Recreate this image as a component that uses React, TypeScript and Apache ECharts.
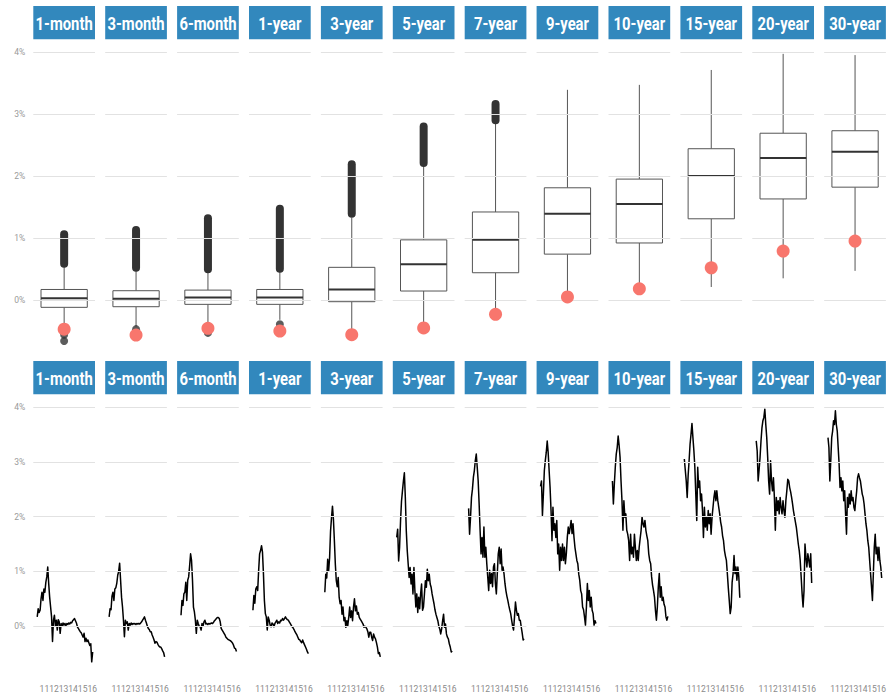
import { useEffect, useRef } from 'react';
import * as echarts from 'echarts';

// ---------- data ----------
const maturities = ['1-month', '3-month', '6-month', '1-year', '3-year', '5-year', '7-year', '9-year', '10-year', '15-year', '20-year', '30-year'];
const yieldTicks = [0, 1, 2, 3, 4];

// boxplot statistics (%)
const whiskerLow = [-0.45, -0.43, -0.37, -0.32, -0.5, -0.4, -0.2, 0.05, 0.18, 0.21, 0.35, 0.47];
const quartile1 = [-0.118, -0.108, -0.07, -0.07, -0.027, 0.145, 0.44, 0.74, 0.92, 1.31, 1.63, 1.82];
const medians = [0.027, 0.02, 0.04, 0.04, 0.17, 0.575, 0.97, 1.39, 1.55, 2.0, 2.29, 2.39];
const quartile3 = [0.17, 0.15, 0.16, 0.17, 0.527, 0.97, 1.42, 1.81, 1.95, 2.44, 2.69, 2.73];
const whiskerHigh = [0.55, 0.49, 0.47, 0.47, 1.33, 2.17, 2.86, 3.39, 3.47, 3.71, 3.97, 3.95];
// dense stacks of high outliers: lowest and highest outlier
const outlierLow = [0.585, 0.52, 0.495, 0.505, 1.39, 2.21, 2.9, null, null, null, null, null];
const outlierHigh = [1.06, 1.13, 1.32, 1.47, 2.19, 2.8, 3.16, null, null, null, null, null];
// isolated low outliers
const lowOutliers = [[-0.56, -0.66], [-0.47], [-0.53], [-0.39], [], [], [], [], [], [], [], []];
// latest value (red dot)
const latest = [-0.47, -0.565, -0.457, -0.5, -0.56, -0.45, -0.23, 0.05, 0.18, 0.52, 0.79, 0.95];

// time series, sampled every 0.1 year from 2010.25
const firstYear = 2010.25;
const stepYears = 0.1;
const s1m = [0.17, 0.32, 0.25, 0.29, 0.5, 0.62, 0.47, 0.68, 0.62, 0.8, 0.9, 1.08, 0.78, 0.53, 0.35, 0.17, -0.28, 0.11, 0.2, 0.0, 0.11, -0.07, 0.12, 0.08, -0.13, 0.05, 0.0, 0.06, 0.02, 0.05, 0.01, 0.05, 0.03, 0.06, 0.04, 0.07, 0.06, 0.1, 0.12, 0.14, 0.1, 0.06, -0.01, -0.04, -0.07, -0.1, -0.12, -0.16, -0.2, -0.13, -0.28, -0.22, -0.28, -0.25, -0.3, -0.35, -0.32, -0.65, -0.47];
const s3m = [0.17, 0.32, 0.3, 0.55, 0.62, 0.47, 0.68, 0.7, 0.78, 0.93, 1.0, 1.15, 0.84, 0.53, 0.35, 0.11, -0.19, 0.11, 0.05, 0.08, -0.07, 0.05, 0.02, 0.06, 0.03, 0.05, 0.04, 0.05, 0.03, 0.05, 0.04, 0.05, 0.04, 0.06, 0.08, 0.11, 0.14, 0.17, 0.11, 0.06, 0.0, -0.04, -0.06, -0.1, -0.1, -0.16, -0.2, -0.25, -0.31, -0.28, -0.29, -0.33, -0.36, -0.38, -0.38, -0.41, -0.45, -0.48, -0.56];
const s6m = [0.2, 0.47, 0.38, 0.59, 0.62, 0.8, 0.47, 0.84, 0.9, 1.1, 1.32, 1.2, 0.84, 0.35, 0.26, 0.11, -0.13, 0.11, 0.05, 0.0, -0.01, -0.07, 0.05, 0.0, 0.08, 0.11, 0.04, 0.05, 0.03, 0.05, 0.04, 0.05, 0.06, 0.05, 0.07, 0.1, 0.12, 0.14, 0.16, 0.16, 0.14, 0.08, -0.04, -0.07, -0.1, -0.13, -0.16, -0.2, -0.22, -0.24, -0.25, -0.26, -0.27, -0.29, -0.31, -0.35, -0.4, -0.41, -0.46];
const s1y = [0.29, 0.56, 0.42, 0.68, 0.72, 0.65, 1.02, 1.32, 1.38, 1.47, 1.35, 0.96, 0.47, 0.23, 0.17, -0.07, 0.17, 0.11, 0.02, -0.01, 0.06, 0.04, -0.01, 0.05, 0.08, 0.11, 0.05, 0.08, 0.06, 0.11, 0.1, 0.14, 0.11, 0.14, 0.17, 0.14, 0.12, 0.11, 0.08, 0.05, 0.02, -0.01, -0.03, -0.06, -0.1, -0.13, -0.16, -0.2, -0.24, -0.25, -0.28, -0.3, -0.25, -0.3, -0.34, -0.38, -0.42, -0.47, -0.5];
const s3y = [0.62, 0.95, 0.88, 1.22, 1.01, 1.25, 1.74, 1.98, 2.19, 1.95, 1.56, 1.13, 0.83, 0.72, 0.89, 0.53, 0.41, 0.47, 0.22, 0.35, 0.1, 0.16, -0.02, 0.1, 0.01, 0.16, 0.35, 0.16, 0.28, 0.1, 0.35, 0.5, 0.28, 0.37, 0.22, 0.25, 0.16, 0.13, 0.1, 0.07, 0.04, -0.02, 0.0, -0.02, -0.05, -0.1, -0.2, -0.11, -0.11, -0.2, -0.26, -0.14, -0.2, -0.23, -0.3, -0.38, -0.5, -0.48, -0.56];
const s5y = [1.62, 1.77, 1.19, 1.44, 1.92, 2.28, 2.47, 2.65, 2.8, 2.35, 1.74, 1.38, 1.13, 0.89, 1.07, 0.77, 0.95, 0.59, 1.07, 0.65, 0.35, 0.59, 0.25, 0.53, 0.32, 0.59, 0.77, 0.29, 0.35, 0.59, 0.83, 0.71, 1.04, 0.83, 0.95, 0.77, 0.71, 0.59, 0.5, 0.41, 0.3, 0.22, 0.16, 0.1, 0.0, -0.05, -0.14, -0.05, 0.1, 0.22, -0.02, 0.04, -0.14, -0.2, -0.23, -0.32, -0.38, -0.47, -0.45];
const s7y = [2.15, 1.68, 1.99, 2.35, 2.5, 2.72, 2.84, 3.02, 3.14, 2.9, 2.65, 2.23, 1.75, 1.32, 1.62, 1.26, 1.81, 1.26, 1.44, 1.14, 0.9, 0.65, 1.02, 0.78, 0.96, 0.72, 1.08, 1.14, 0.78, 0.59, 0.96, 1.32, 1.44, 1.14, 1.41, 1.02, 1.08, 0.96, 0.78, 0.65, 0.55, 0.47, 0.38, 0.3, 0.23, 0.11, 0.0, -0.07, 0.17, 0.44, 0.29, 0.2, 0.23, 0.11, 0.11, -0.01, -0.12, -0.25, -0.23];
const s9y = [2.55, 2.65, 2.02, 2.41, 2.84, 3.02, 3.17, 3.38, 3.17, 2.84, 2.53, 2.11, 1.56, 2.17, 1.75, 1.87, 1.62, 1.93, 1.32, 1.5, 1.02, 1.44, 1.2, 1.5, 1.2, 1.44, 1.14, 1.32, 1.62, 1.81, 1.69, 1.8, 1.93, 1.69, 1.87, 1.62, 1.44, 1.32, 1.2, 1.14, 0.95, 0.84, 0.65, 0.59, 0.35, 0.3, 0.17, 0.02, 0.35, 0.78, 0.47, 0.65, 0.35, 0.53, 0.29, 0.23, 0.02, 0.1, 0.05];
const s10y = [2.65, 2.23, 2.59, 2.9, 3.14, 3.26, 3.47, 3.3, 3.08, 2.65, 2.29, 1.75, 2.29, 1.99, 2.05, 1.75, 1.68, 1.56, 1.2, 1.68, 1.32, 1.44, 1.26, 1.68, 1.44, 1.2, 1.38, 1.2, 1.44, 1.6, 1.75, 1.99, 1.87, 1.81, 1.93, 1.75, 1.65, 1.56, 1.32, 1.2, 1.14, 0.9, 0.75, 0.65, 0.53, 0.29, 0.11, 0.35, 0.72, 0.96, 0.53, 0.72, 0.47, 0.53, 0.4, 0.35, 0.17, 0.11, 0.18];
const s15y = [3.05, 2.85, 2.65, 2.35, 2.75, 3.02, 3.32, 3.5, 3.7, 3.44, 3.2, 2.9, 2.41, 1.93, 2.9, 2.53, 2.65, 2.29, 2.41, 2.11, 1.62, 2.17, 1.81, 1.99, 1.75, 2.11, 1.87, 2.05, 1.68, 1.99, 2.17, 2.35, 2.47, 2.29, 2.47, 2.29, 2.17, 2.05, 1.9, 1.81, 1.65, 1.56, 1.38, 1.28, 1.2, 0.96, 0.7, 0.47, 0.23, 0.35, 0.8, 0.96, 1.29, 0.96, 1.08, 0.84, 1.08, 0.9, 0.52];
const s20y = [3.38, 3.2, 2.65, 2.85, 3.08, 3.38, 3.62, 3.75, 3.81, 3.96, 3.68, 3.44, 3.08, 2.65, 2.41, 3.02, 2.65, 2.47, 2.71, 2.35, 1.75, 2.35, 2.11, 2.29, 2.05, 2.35, 2.17, 2.05, 2.29, 2.11, 1.99, 2.29, 2.47, 2.68, 2.65, 2.53, 2.45, 2.35, 2.23, 2.1, 2.0, 1.9, 1.8, 1.65, 1.5, 1.38, 1.2, 0.9, 0.59, 0.35, 0.65, 1.5, 1.26, 1.08, 1.32, 1.2, 1.08, 1.32, 0.79];
const s30y = [3.44, 3.26, 2.65, 3.02, 3.44, 3.56, 3.75, 3.68, 3.93, 3.68, 3.56, 3.26, 2.96, 2.53, 2.71, 2.47, 2.65, 2.29, 2.47, 2.05, 1.68, 2.35, 2.17, 2.41, 2.23, 2.47, 2.29, 2.35, 2.17, 2.11, 2.3, 2.47, 2.71, 2.78, 2.71, 2.65, 2.53, 2.41, 2.35, 2.23, 2.05, 1.87, 1.75, 1.56, 1.44, 1.2, 0.96, 0.72, 0.47, 0.96, 1.44, 1.68, 1.32, 1.44, 1.2, 1.44, 1.2, 1.08, 0.88];
const seriesValues = [s1m, s3m, s6m, s1y, s3y, s5y, s7y, s9y, s10y, s15y, s20y, s30y];

// ---------- layout ----------
const FONT = "Roboto, 'Liberation Sans', sans-serif";
const PANEL_LEFT0 = 33.3;
const PANEL_STEP = 71.9;
const PANEL_W = 61.7;
const TOP_GRID_TOP = 39.6;
const TOP_GRID_H = 315.6;
const BOT_GRID_TOP = 396;
const BOT_GRID_H = 279;
const Y_MIN = -0.89;
const Y_MAX = 4.2;
const X_MIN = 2009.84;
const X_MAX = 2016.293;
const STRIP_TOP = [6, 361];
const STRIP_H = 33.3;
const STRIP_COLOR = '#3288bd';
const GRID_COLOR = '#e2e2e2';

function buildOption() {
  const topGrids: any[] = [];
  const botGrids: any[] = [];
  const topX: any[] = [];
  const botX: any[] = [];
  const topY: any[] = [];
  const botY: any[] = [];
  const series: any[] = [];
  const graphics: any[] = [];

  const yLabel = (show: boolean) => ({
    show,
    margin: 8,
    color: '#9a9a9a',
    fontSize: 8.5,
    fontFamily: FONT,
    formatter: (v: number) => (Math.abs(v - Math.round(v)) < 1e-6 ? `${Math.round(v)}%` : ''),
  });

  const gridSeries = (idx: number) => ({
    type: 'line',
    xAxisIndex: idx,
    yAxisIndex: idx,
    data: [],
    z: 1,
    silent: true,
    markLine: {
      silent: true,
      symbol: ['none', 'none'],
      label: { show: false },
      lineStyle: { color: GRID_COLOR, width: 1, type: 'solid' },
      data: yieldTicks.map((v) => ({ yAxis: v })),
    },
  });

  maturities.forEach((name, i) => {
    const left = PANEL_LEFT0 + PANEL_STEP * i;

    // ----- top row: boxplot -----
    topGrids.push({ left, top: TOP_GRID_TOP, width: PANEL_W, height: TOP_GRID_H });
    topX.push({ type: 'value', gridIndex: i, min: 0.4, max: 1.6, show: false });
    topY.push({
      type: 'value', gridIndex: i, min: Y_MIN, max: Y_MAX, splitNumber: 5,
      axisLine: { show: false }, axisTick: { show: false }, splitLine: { show: false },
      axisLabel: yLabel(i === 0),
    });
    series.push(gridSeries(i));
    series.push({
      type: 'custom',
      xAxisIndex: i,
      yAxisIndex: i,
      z: 3,
      silent: true,
      data: [[1, whiskerLow[i], quartile1[i], medians[i], quartile3[i], whiskerHigh[i]]],
      encode: { x: 0, y: [1, 2, 3, 4, 5] },
      renderItem: (_params: any, api: any) => {
        const x = api.value(0);
        const pLo = api.coord([x, api.value(1)]);
        const pQ1 = api.coord([x, api.value(2)]);
        const pHi = api.coord([x, api.value(5)]);
        const pQ3 = api.coord([x, api.value(4)]);
        const tl = api.coord([x - 0.45, api.value(4)]);
        const br = api.coord([x + 0.45, api.value(2)]);
        const ml = api.coord([x - 0.45, api.value(3)]);
        const mr = api.coord([x + 0.45, api.value(3)]);
        const stroke = '#555555';
        return {
          type: 'group',
          children: [
            { type: 'line', shape: { x1: pQ3[0], y1: pQ3[1], x2: pHi[0], y2: pHi[1] }, style: { stroke, lineWidth: 1 } },
            { type: 'line', shape: { x1: pQ1[0], y1: pQ1[1], x2: pLo[0], y2: pLo[1] }, style: { stroke, lineWidth: 1 } },
            { type: 'rect', shape: { x: tl[0], y: tl[1], width: br[0] - tl[0], height: br[1] - tl[1] }, style: { fill: '#ffffff', stroke, lineWidth: 1 } },
            { type: 'line', shape: { x1: ml[0], y1: ml[1], x2: mr[0], y2: mr[1] }, style: { stroke: '#333333', lineWidth: 2 } },
          ],
        };
      },
    });
    if (outlierLow[i] !== null && outlierHigh[i] !== null) {
      series.push({
        type: 'line', xAxisIndex: i, yAxisIndex: i, z: 4, silent: true,
        data: [[1, outlierLow[i]], [1, outlierHigh[i]]],
        symbol: 'none',
        lineStyle: { color: '#333333', width: 8, cap: 'round' },
      });
    }
    if (lowOutliers[i].length) {
      series.push({
        type: 'scatter', xAxisIndex: i, yAxisIndex: i, z: 4, silent: true,
        data: lowOutliers[i].map((v) => [1, v]),
        symbolSize: 8,
        itemStyle: { color: '#333333' },
      });
    }
    series.push({
      type: 'scatter', xAxisIndex: i, yAxisIndex: i, z: 5, silent: true,
      data: [[1, latest[i]]],
      symbolSize: 13,
      itemStyle: { color: '#F8766D', opacity: 1 },
    });

    // ----- bottom row: time series -----
    const b = 12 + i;
    botGrids.push({ left, top: BOT_GRID_TOP, width: PANEL_W, height: BOT_GRID_H });
    botX.push({
      type: 'value', gridIndex: b, min: X_MIN, max: X_MAX, splitNumber: 6,
      axisLine: { show: false }, axisTick: { show: false }, splitLine: { show: false },
      axisLabel: {
        show: true, margin: 9, color: '#8a8a8a', fontSize: 8.5, fontFamily: FONT,
        formatter: (v: number) => (Math.abs(v - Math.round(v)) < 1e-6 && v >= 2011 ? String(Math.round(v)).slice(2) : ''),
      },
    });
    botY.push({
      type: 'value', gridIndex: b, min: Y_MIN, max: Y_MAX, splitNumber: 5,
      axisLine: { show: false }, axisTick: { show: false }, splitLine: { show: false },
      axisLabel: yLabel(i === 0),
    });
    series.push(gridSeries(b));
    series.push({
      type: 'line', xAxisIndex: b, yAxisIndex: b, z: 3, silent: true,
      data: seriesValues[i].map((v, k) => [firstYear + k * stepYears, v]),
      symbol: 'none',
      lineStyle: { color: '#000000', width: 1.5, join: 'round' },
    });

    // strips
    STRIP_TOP.forEach((st) => {
      graphics.push({
        type: 'rect', silent: true,
        shape: { x: left, y: st, width: PANEL_W, height: STRIP_H },
        style: { fill: STRIP_COLOR },
      });
      graphics.push({
        type: 'text', silent: true,
        x: left + PANEL_W / 2, y: st + STRIP_H / 2 + 0.5,
        scaleX: 0.78,
        style: {
          text: name, fill: '#ffffff', fontSize: 19, fontWeight: 'bold', fontFamily: FONT,
          align: 'center', verticalAlign: 'middle', textAlign: 'center', textVerticalAlign: 'middle',
        },
      });
    });
  });

  return {
    animation: false,
    backgroundColor: '#ffffff',
    grid: [...topGrids, ...botGrids],
    xAxis: [...topX, ...botX],
    yAxis: [...topY, ...botY],
    series,
    graphic: graphics,
  };
}

export default function App() {
  const ref = useRef<HTMLDivElement>(null);
  useEffect(() => {
    if (!ref.current) return;
    const chart = echarts.init(ref.current, undefined, { renderer: 'svg' });
    chart.setOption(buildOption() as any);
    return () => chart.dispose();
  }, []);
  return <div ref={ref} style={{ position: 'fixed', left: 0, top: 0, width: 889, height: 696 }} />;
}
